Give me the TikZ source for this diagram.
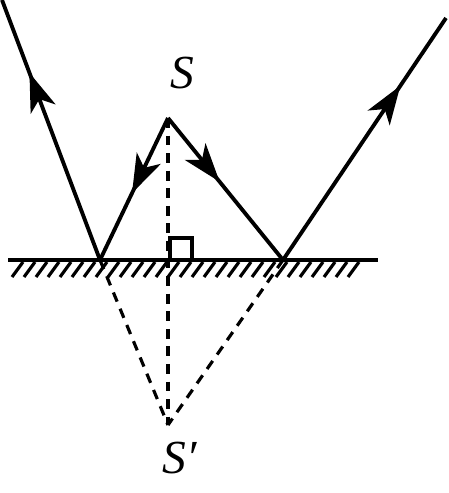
\documentclass[tikz,border=0pt]{standalone}
\usepackage{fontspec}
\setmainfont{Liberation Serif}
\usepackage{tikz}
\usetikzlibrary{arrows.meta, decorations.markings}
\tikzstyle{ray} =
[line width = 2.2pt, postaction = {decorate}]
\tikzstyle{virtual} =
[line width = 1.8pt, dash pattern = on 5.6pt off 4.4pt]
\tikzstyle{hatch} =
[line width = 1.8pt]
\tikzstyle{point} =
[inner sep = 0pt, font = \fontsize{27}{32}\selectfont\itshape]
\tikzset{midarrow/.style = {decoration = {markings,
  mark = at position #1 with {\arrow{Stealth[length=22pt,width=15pt,inset=6pt]}}}}}

\begin{document}
\begin{tikzpicture}[x = 0.02cm, y = -0.02cm]
  \useasboundingbox (0,0) rectangle (449,493);
  % points
  \coordinate (src) at (168,118);
  \coordinate (ptA) at (100,260);
  \coordinate (ptB) at (283,260);
  \coordinate (img) at (168,425);
  \coordinate (outL) at (2,0);
  \coordinate (outR) at (446,18);
  \coordinate (mirL) at (8,260);
  \coordinate (mirR) at (378,260);
  \node [point] (lblS) at (182,73) {S};
  \node [point] (lblSp) at (180,458) {S′};
  % mirror
  \draw [line width = 2.2pt] (mirL) -- (mirR);
  \foreach \x in {23,35,...,363}
    \draw [hatch] (\x,262) -- ++(-11,15);
  % right angle mark
  \draw [line width = 2pt] (170,260) |- (192,238) -- (192,260);
  % virtual rays
  \draw [virtual] (src) -- (img);
  \draw [virtual] (ptA) -- (img);
  \draw [virtual] (ptB) -- (img);
  % real rays
  \draw [ray, midarrow=0.53] (src) -- (ptA);
  \draw [ray, midarrow=0.45] (src) -- (ptB);
  \draw [ray, midarrow=0.72] (ptA) -- (outL);
  \draw [ray, midarrow=0.72] (ptB) -- (outR);
\end{tikzpicture}
\end{document}
